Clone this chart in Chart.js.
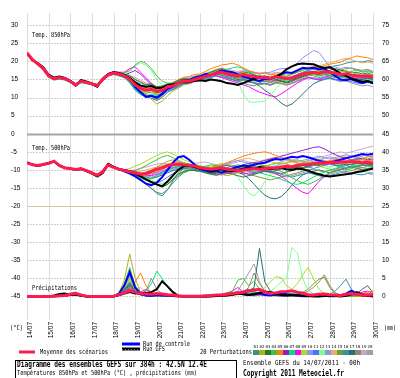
<!DOCTYPE html>
<html>
<head>
<meta charset="utf-8">
<script src="https://cdn.jsdelivr.net/npm/chart.js@4/dist/chart.umd.min.js"></script>
<style>
  html, body { margin: 0; padding: 0; background: #fff; overflow: hidden; }
  canvas { display: block; }
</style>
</head>
<body>
<canvas id="graphe" width="400" height="378"></canvas>
<script>
// --- Données (pas de 6 h, du 14/07 00h au 30/07 00h) ---
const dayLabels = ['14/07','15/07','16/07','17/07','18/07','19/07','20/07','21/07','22/07',
                   '23/07','24/07','25/07','26/07','27/07','28/07','29/07','30/07'];
const leftTicks = [30, 25, 20, 15, 10, 5, 0, -5, -10, -15, -20, -25, -30, -35, -40, -45];
const rightTicks = [75, 70, 65, 60, 55, 50, 45, 40, 35, 30, 25, 20, 15, 10, 5, 0];
const memberColors = ['#3f8f7f','#b0b020','#207f20','#40c040','#ff8000','#9020c0','#00e080','#ff00ff',
                      '#a0e020','#9090ff','#5070ff','#80ff90','#8898e0','#e8b070','#70a030','#3890a8',
                      '#287070','#a08070','#c0a8d0','#a0a0a0'];

// Température 850 hPa (°C)
const t850Mean = [22.3,20.5,19.3,18.0,16.0,15.2,15.5,15.2,14.5,13.5,14.5,14.2,13.8,13.3,15.0,16.3,16.8,16.5,16.0,15.0,13.5,12.5,12.0,12.3,11.6,12.0,13.0,13.2,14.0,14.6,14.5,15.0,
  15.4,15.8,16.2,16.8,17.0,16.6,16.3,16.0,16.4,16.0,15.8,15.5,15.6,15.3,15.8,15.5,15.2,15.4,16.0,16.5,16.8,17.0,16.8,17.2,17.0,16.7,16.4,16.6,16.2,16.0,15.8,16.0,15.6];
const t850Ctrl = [22.3,20.5,19.3,18.0,16.0,15.2,15.5,15.2,14.5,13.5,14.5,14.2,13.8,13.3,15.0,16.3,16.8,16.5,15.8,15.2,13.0,11.5,10.2,10.5,10.0,11.0,12.5,13.0,14.0,14.8,14.8,15.5,
  15.8,16.5,16.2,16.8,17.5,17.2,17.0,16.4,15.8,15.4,15.0,14.6,15.2,15.0,15.8,16.5,17.0,16.8,17.5,18.2,18.0,18.2,17.8,18.0,17.0,16.0,15.0,14.8,15.2,14.5,14.0,14.4,14.0];
const t850Gfs = [22.3,20.3,19.5,18.4,16.3,15.5,15.8,15.4,14.6,13.3,14.8,14.4,13.7,13.0,15.2,16.5,17.0,16.8,16.2,15.4,14.2,13.3,13.0,13.2,12.6,12.8,13.4,13.6,14.0,14.3,14.2,14.6,
  14.8,14.6,15.0,14.8,14.5,14.0,13.8,13.5,14.0,14.6,15.2,15.8,15.6,15.4,15.8,16.5,17.8,18.6,19.2,19.4,19.3,19.2,18.6,18.2,18.4,17.6,16.6,16.0,15.2,14.8,14.4,14.6,14.0];
const t850Members = [
  [22.3,20.4,19.5,17.8,15.8,15.0,15.7,15.0,14.3,13.6,14.7,14.0,13.6,13.4,15.3,16.5,17.0,16.3,15.8,14.5,12.5,11.0,10.0,10.4,9.5,10.5,12.0,12.8,13.5,14.2,14.0,14.8,15.0,15.5,16.0,16.5,16.2,15.8,15.0,14.5,14.0,13.5,13.2,14.0,15.0,15.5,16.0,15.4,15.0,15.6,16.2,16.8,17.4,17.0,16.5,16.8,16.0,15.5,15.8,16.4,16.0,15.5,15.2,15.6,15.0],
  [22.3,20.6,19.2,18.2,16.2,15.4,15.3,15.3,14.6,13.4,14.4,14.3,13.9,13.1,14.8,16.2,16.6,16.7,16.2,15.5,14.0,12.5,11.0,9.5,8.2,9.0,10.5,11.8,12.6,13.5,13.8,14.4,15.0,15.6,16.5,17.2,17.8,17.5,17.0,16.5,17.0,16.4,16.0,15.2,14.8,14.2,14.5,14.0,13.6,14.0,14.8,15.5,16.0,16.4,16.0,16.5,16.8,17.2,17.0,17.4,17.0,16.5,16.2,16.6,16.0],
  [22.2,20.5,19.4,18.0,15.9,15.1,15.6,15.4,14.7,13.7,14.5,14.4,14.0,13.5,15.2,16.6,17.1,16.8,16.5,16.0,15.0,14.2,13.5,13.8,13.0,13.2,13.8,14.0,14.8,15.2,15.0,15.6,16.0,16.5,17.0,17.6,18.0,17.4,17.0,16.6,17.0,16.8,16.2,15.8,16.0,15.5,15.0,14.6,14.2,14.8,15.5,16.0,16.2,16.6,16.4,16.8,17.5,18.0,17.6,17.2,16.8,17.0,16.5,16.8,16.2],
  [22.3,20.7,19.6,18.3,16.4,15.6,15.9,15.5,14.8,13.9,14.9,14.6,14.1,13.2,15.0,16.4,17.0,16.9,16.8,17.5,19.0,20.0,19.5,18.0,16.0,14.5,14.0,13.8,14.5,15.0,15.2,15.8,16.2,16.0,16.8,17.4,17.2,16.8,16.0,15.5,15.8,15.2,15.0,14.6,14.8,15.2,16.0,16.2,15.8,16.5,17.0,17.6,18.0,17.8,17.4,17.8,17.2,16.6,16.2,16.8,17.2,17.6,17.0,17.2,16.8],
  [22.4,20.5,19.1,17.9,15.8,15.0,15.4,15.0,14.3,13.3,14.3,14.1,13.6,13.0,14.6,16.0,16.5,16.2,16.0,15.2,14.0,13.0,12.5,12.8,12.0,12.6,13.5,14.0,14.8,15.6,15.8,16.4,16.5,17.2,18.0,18.5,19.0,19.2,19.5,19.0,18.2,17.5,17.0,16.5,16.8,16.2,16.5,16.0,15.8,16.4,17.0,17.5,18.0,18.5,18.2,18.8,19.2,19.5,19.8,20.5,21.0,21.5,21.2,21.0,20.5],
  [22.3,20.3,19.3,18.1,16.1,15.3,15.6,15.3,14.6,13.6,14.6,14.3,13.9,13.4,15.1,16.4,16.9,16.7,16.2,16.8,17.5,16.5,15.0,13.5,12.0,11.5,12.2,13.0,13.8,14.5,14.2,14.9,15.2,15.8,16.0,16.5,16.8,16.2,15.8,15.4,15.8,15.2,14.8,14.5,14.6,14.2,14.8,14.5,14.0,14.4,15.2,15.8,16.2,16.5,16.0,16.4,16.8,16.2,15.8,16.0,15.5,15.2,15.0,15.4,15.0],
  [22.2,20.4,19.0,17.7,15.6,14.8,15.1,14.8,14.1,13.1,14.1,13.8,13.5,13.0,14.7,16.1,16.4,16.1,15.5,14.0,12.0,10.8,10.2,11.0,10.5,11.2,12.5,13.0,13.6,14.0,14.4,15.0,14.8,15.2,15.8,16.5,17.2,17.8,18.2,18.5,18.0,17.2,16.4,15.8,15.5,15.0,15.4,15.0,14.5,14.8,15.5,16.0,16.4,16.0,15.5,16.0,16.2,15.8,15.5,15.8,15.4,15.0,14.8,15.2,14.6],
  [22.3,20.6,19.5,18.2,16.2,15.5,15.8,15.5,14.8,13.8,14.8,14.5,14.0,13.6,15.4,16.7,17.2,17.0,17.0,18.0,18.5,17.0,15.5,14.0,12.5,12.0,12.8,13.6,14.2,14.8,15.0,15.5,15.6,16.0,16.4,16.0,15.5,15.0,14.5,14.0,13.5,13.0,12.2,11.5,11.0,10.5,10.2,11.0,12.0,13.0,14.0,14.8,15.5,15.2,15.0,15.6,16.0,16.5,16.2,16.0,15.6,15.2,15.0,15.4,15.2],
  [22.3,20.5,19.2,17.9,15.9,15.2,15.5,15.1,14.4,13.4,14.4,14.2,13.7,13.2,14.9,16.2,16.7,16.4,15.8,14.8,13.2,12.0,11.5,11.8,11.0,11.5,12.8,13.2,14.2,15.0,14.8,15.4,15.8,16.2,16.6,17.0,16.5,16.0,15.8,15.2,15.6,15.0,14.6,14.2,14.5,14.0,14.6,14.8,14.5,15.0,15.6,16.2,16.5,16.8,16.4,16.8,16.5,16.0,15.6,15.8,15.4,15.2,14.8,15.2,14.8],
  [22.4,20.6,19.4,18.0,16.0,15.3,15.4,15.2,14.5,13.5,14.6,14.2,13.8,13.3,15.0,16.3,16.8,16.6,16.0,15.6,14.5,13.8,13.2,13.0,12.4,12.8,13.2,13.8,14.4,14.8,14.6,15.2,15.5,16.0,16.4,17.0,17.5,17.2,17.0,16.8,17.2,17.0,16.8,16.5,16.8,17.0,17.6,18.0,18.0,18.5,19.5,21.0,22.0,23.0,22.5,20.5,18.5,18.5,18.0,18.4,18.0,17.6,17.2,17.5,17.0],
  [22.2,20.4,19.1,17.8,15.7,14.9,15.2,15.0,14.3,13.2,14.2,14.0,13.6,13.1,14.8,16.0,16.5,16.2,15.6,14.2,12.2,11.0,10.5,10.2,9.8,10.6,11.8,12.5,13.2,14.0,14.2,14.6,14.6,15.0,15.5,16.0,15.8,15.5,15.0,14.6,15.0,14.5,14.2,13.8,14.0,13.6,14.2,14.0,13.5,14.0,14.6,15.2,15.6,15.2,14.8,15.2,15.6,15.0,14.6,14.8,14.4,14.0,13.8,14.2,13.8],
  [22.3,20.5,19.5,18.2,16.2,15.4,15.7,15.4,14.6,13.7,14.7,14.4,14.0,13.5,15.2,16.6,17.1,16.9,16.4,17.2,18.8,19.5,19.0,17.5,15.0,13.5,13.0,13.4,14.0,14.6,14.4,15.2,15.0,15.4,15.8,16.2,16.0,15.6,15.2,14.5,11.0,8.8,8.7,8.8,9.0,10.5,12.5,13.8,14.5,15.0,15.6,16.2,16.6,16.4,16.0,16.5,16.2,15.8,15.5,16.0,15.6,15.2,14.8,15.2,14.8],
  [22.3,20.4,19.3,18.0,16.0,15.2,15.5,15.2,14.5,13.5,14.5,14.2,13.8,13.3,15.0,16.3,16.8,16.5,16.0,15.2,13.8,12.8,12.5,12.0,11.4,12.2,13.0,13.5,14.2,14.4,14.0,14.6,15.2,15.6,16.0,16.6,16.8,16.4,16.0,15.8,16.2,15.8,15.5,15.2,15.4,15.0,15.5,15.2,15.0,15.2,15.8,16.2,16.6,16.8,16.5,17.0,16.8,16.4,16.2,16.5,16.0,15.8,15.5,15.8,15.4],
  [22.3,20.6,19.4,18.1,16.1,15.3,15.6,15.3,14.7,13.6,14.6,14.4,13.9,13.4,15.1,16.4,16.9,16.7,16.2,15.8,15.0,14.5,13.8,13.0,12.2,12.5,13.5,14.2,15.0,15.5,15.2,15.8,16.0,16.6,17.0,17.5,18.0,17.6,17.2,17.0,17.4,17.2,16.8,16.6,16.8,16.4,16.8,16.5,16.2,16.5,17.0,17.6,18.0,18.4,18.8,19.2,19.6,20.0,20.5,20.8,20.5,20.0,19.6,19.8,19.5],
  [22.2,20.5,19.2,17.9,15.9,15.1,15.4,15.1,14.4,13.3,14.3,14.1,13.7,13.2,14.9,16.1,16.6,16.3,15.8,14.6,13.0,11.8,11.2,11.5,10.8,11.2,12.2,12.8,13.8,14.5,14.5,15.0,15.2,15.0,15.5,16.2,16.0,15.4,15.0,14.5,14.8,14.2,14.0,13.6,13.8,13.4,14.0,14.5,14.2,14.8,15.2,15.6,16.0,16.4,16.2,16.6,17.0,17.4,17.6,18.0,18.2,17.8,17.5,17.8,17.2],
  [22.3,20.6,19.3,18.1,16.0,15.3,15.5,15.1,14.5,13.4,14.5,14.3,13.8,13.3,15.1,16.3,16.7,16.5,16.0,15.0,13.4,12.2,11.8,12.0,11.2,11.8,12.8,13.2,14.0,14.6,14.8,15.3,15.5,16.0,16.5,17.0,17.4,17.0,16.6,16.2,16.6,16.2,16.0,15.6,15.8,15.5,16.0,15.8,15.5,15.8,16.4,17.0,17.5,17.8,17.6,18.0,18.4,18.8,19.0,19.5,19.8,20.0,19.8,20.2,20.0],
  [22.3,20.3,19.1,17.8,15.8,15.0,15.3,15.0,14.2,13.3,14.3,14.0,13.5,12.9,14.6,15.9,16.4,16.0,15.6,14.2,12.6,11.2,10.2,9.8,9.2,10.0,11.5,12.2,13.0,13.8,14.0,14.6,15.4,15.8,16.2,16.6,16.4,16.0,15.5,15.0,15.2,14.6,14.0,13.2,12.0,11.0,9.8,8.5,7.6,8.2,9.5,11.0,12.5,13.8,14.5,15.0,15.4,15.0,14.8,15.2,14.8,14.5,14.2,14.6,14.2],
  [22.3,20.5,19.4,18.1,16.1,15.3,15.7,15.3,14.6,13.6,14.7,14.3,13.9,13.5,15.2,16.5,17.0,16.7,16.2,15.4,14.0,13.2,12.8,13.2,12.5,12.8,13.6,13.8,14.6,15.0,14.8,15.2,15.0,15.4,15.8,16.2,16.0,15.5,15.2,15.0,15.4,15.0,14.8,14.5,14.8,14.5,15.0,14.8,14.4,14.8,15.4,16.0,16.4,16.6,16.2,16.5,16.2,15.8,15.4,15.6,15.2,14.8,14.4,14.8,14.4],
  [22.4,20.7,19.5,18.2,16.2,15.4,15.8,15.4,14.7,13.7,14.8,14.5,14.0,13.6,15.3,16.6,17.1,16.9,16.5,16.2,15.5,14.8,14.0,13.5,12.8,13.0,13.8,14.2,14.8,15.4,15.6,16.0,16.2,16.8,17.2,17.8,18.2,17.8,17.5,17.2,17.6,17.2,17.0,16.8,17.0,16.6,17.0,16.8,16.5,16.8,17.4,18.0,18.4,18.6,18.2,18.5,18.0,17.6,17.2,17.4,17.0,16.6,16.2,16.4,16.0],
  [22.2,20.4,19.2,17.9,15.9,15.1,15.3,15.0,14.3,13.4,14.3,14.0,13.6,13.0,14.7,16.0,16.6,16.2,15.8,14.4,12.8,11.5,10.8,10.5,10.0,10.8,12.0,12.6,13.2,14.0,14.2,14.8,14.8,15.2,15.6,16.0,15.6,15.2,14.8,14.4,14.8,14.4,14.0,13.6,13.8,13.4,14.0,13.8,13.4,13.8,14.4,15.0,15.4,15.6,15.2,15.6,15.2,14.8,14.4,14.6,14.0,13.6,13.2,13.4,13.0]
];

// Température 500 hPa (°C)
const t500Mean = [-8.0,-8.6,-8.8,-8.5,-8.2,-7.6,-8.8,-9.5,-9.6,-9.9,-9.7,-10.2,-10.8,-11.5,-10.5,-8.6,-9.3,-9.8,-10.2,-10.5,-10.8,-11.2,-11.0,-10.4,-9.8,-9.4,-8.8,-8.5,-8.4,-8.6,-8.7,-8.9,
  -9.4,-9.6,-9.8,-9.6,-9.5,-9.8,-10.0,-10.2,-10.0,-9.8,-9.6,-9.8,-9.6,-9.5,-9.4,-9.2,-9.0,-9.2,-8.8,-8.6,-8.5,-8.2,-8.0,-8.1,-7.9,-8.0,-7.8,-7.9,-7.7,-7.8,-8.0,-7.9,-8.2];
const t500Ctrl = [-8.0,-8.5,-8.9,-8.6,-8.2,-7.7,-8.7,-9.4,-9.6,-10.0,-9.8,-10.3,-10.9,-11.6,-10.4,-8.5,-9.2,-9.8,-10.4,-11.0,-11.8,-12.8,-13.8,-14.2,-13.5,-12.0,-10.0,-8.0,-6.5,-6.2,-7.2,-8.5,
  -9.8,-10.2,-10.6,-10.4,-10.8,-10.2,-9.6,-9.2,-8.8,-9.0,-8.6,-8.2,-8.0,-7.4,-7.0,-7.2,-6.8,-6.4,-6.6,-6.2,-6.5,-7.0,-7.5,-7.8,-8.0,-7.6,-7.2,-6.8,-6.4,-6.0,-5.6,-5.8,-5.5];
const t500Gfs = [-8.0,-8.5,-8.9,-8.4,-8.1,-7.7,-8.9,-9.4,-9.7,-9.8,-9.6,-10.3,-11.0,-11.8,-10.8,-8.4,-9.2,-9.8,-10.0,-10.4,-11.0,-11.8,-12.6,-13.4,-14.0,-14.5,-13.2,-11.5,-10.0,-9.0,-8.8,-9.2,
  -9.6,-9.8,-10.2,-10.0,-9.8,-10.2,-10.4,-10.0,-9.6,-9.4,-9.6,-9.2,-9.4,-9.8,-9.6,-9.4,-9.8,-10.0,-9.6,-9.8,-10.2,-10.8,-11.2,-11.6,-11.8,-11.6,-11.4,-11.2,-11.0,-10.6,-10.4,-10.0,-9.6];
const t500Members = [
  [-8.0,-8.5,-8.9,-8.6,-8.1,-7.8,-9.0,-9.4,-9.8,-10.0,-9.5,-10.4,-11.0,-11.8,-10.2,-8.2,-9.0,-9.6,-10.0,-10.6,-11.5,-12.5,-13.8,-15.0,-16.5,-17.2,-15.5,-13.0,-10.8,-9.6,-9.2,-9.6,-10.0,-10.4,-10.8,-10.2,-9.8,-9.4,-9.0,-8.6,-9.0,-8.8,-9.2,-9.6,-10.0,-10.4,-10.8,-11.0,-10.6,-10.2,-9.8,-9.6,-9.2,-8.8,-8.4,-8.6,-8.2,-8.0,-8.4,-8.8,-9.2,-9.0,-8.6,-8.8,-9.0],
  [-8.1,-8.7,-8.7,-8.4,-8.3,-7.5,-8.6,-9.6,-9.5,-9.8,-9.9,-10.0,-10.6,-11.2,-10.8,-8.8,-9.4,-10.0,-10.2,-10.4,-10.8,-11.0,-10.6,-10.0,-9.2,-8.4,-7.6,-7.2,-7.8,-8.4,-8.8,-9.2,-9.6,-10.0,-10.4,-10.8,-11.2,-11.6,-11.2,-10.8,-10.4,-10.0,-9.6,-9.2,-9.0,-8.6,-8.2,-8.0,-8.4,-8.8,-8.4,-8.0,-7.6,-7.2,-7.0,-7.4,-7.8,-8.2,-8.0,-7.6,-7.2,-7.4,-7.0,-6.8,-7.0],
  [-7.9,-8.6,-8.8,-8.6,-8.2,-7.7,-8.8,-9.4,-9.6,-10.0,-9.8,-10.2,-10.9,-12.0,-11.0,-8.8,-9.2,-9.7,-10.0,-10.2,-10.6,-11.4,-12.4,-13.4,-14.2,-14.8,-14.0,-12.5,-11.2,-10.4,-10.0,-10.2,-10.4,-10.8,-11.2,-11.0,-10.6,-10.8,-11.2,-11.6,-12.0,-11.6,-11.2,-10.8,-10.4,-10.6,-10.2,-9.8,-9.4,-9.6,-9.2,-9.4,-9.0,-8.6,-8.8,-8.4,-8.2,-8.6,-8.8,-8.4,-8.6,-8.2,-8.0,-8.4,-8.6],
  [-8.0,-8.4,-8.8,-8.5,-8.0,-7.4,-8.7,-9.4,-9.6,-9.8,-9.6,-10.0,-10.6,-11.4,-10.6,-8.0,-9.0,-9.6,-10.0,-10.4,-10.2,-9.6,-8.8,-8.0,-7.2,-6.4,-6.0,-6.6,-7.4,-8.0,-8.4,-8.8,-9.2,-9.0,-8.6,-8.8,-9.2,-9.6,-9.8,-9.4,-9.0,-8.6,-8.2,-8.6,-9.0,-9.4,-9.8,-10.4,-11.2,-12.2,-13.0,-13.6,-14.0,-13.4,-12.6,-11.6,-10.8,-10.2,-9.8,-10.0,-9.6,-9.2,-9.4,-9.0,-8.8],
  [-8.0,-8.7,-8.9,-8.4,-8.2,-7.6,-8.9,-9.5,-9.7,-10.0,-9.7,-10.1,-10.7,-11.4,-10.4,-8.5,-9.4,-10.0,-10.4,-10.8,-11.2,-11.6,-11.4,-11.0,-10.4,-9.8,-9.2,-8.8,-8.4,-8.6,-8.8,-9.0,-9.4,-9.8,-9.4,-9.0,-8.6,-8.0,-7.4,-6.8,-6.2,-5.8,-5.4,-5.2,-5.0,-5.4,-6.0,-6.6,-7.0,-7.6,-8.0,-8.4,-8.2,-8.6,-8.4,-8.0,-7.6,-7.2,-7.0,-7.4,-7.8,-7.6,-7.2,-7.4,-7.6],
  [-8.1,-8.5,-8.8,-8.5,-8.2,-7.7,-8.8,-9.6,-9.6,-9.8,-9.6,-10.3,-10.8,-11.6,-10.6,-8.7,-9.3,-9.9,-10.2,-10.6,-11.0,-11.2,-11.0,-10.6,-10.0,-9.4,-8.8,-8.4,-8.6,-8.8,-9.0,-9.2,-9.4,-9.6,-9.8,-9.4,-9.0,-8.8,-9.2,-9.0,-8.6,-8.2,-8.0,-7.8,-7.4,-7.0,-6.6,-6.2,-5.8,-5.4,-5.0,-4.6,-4.2,-3.8,-3.6,-4.2,-5.0,-5.8,-6.4,-6.8,-7.2,-7.0,-6.8,-7.2,-7.0],
  [-8.0,-8.6,-8.8,-8.6,-8.3,-7.6,-8.7,-9.5,-9.5,-9.9,-9.8,-10.2,-10.8,-11.5,-10.4,-8.2,-9.2,-9.8,-10.2,-10.8,-11.6,-12.4,-12.8,-12.4,-11.6,-10.8,-10.0,-9.4,-9.0,-9.2,-9.4,-9.2,-9.0,-9.2,-9.6,-10.0,-10.4,-10.2,-9.8,-9.4,-9.6,-10.0,-10.4,-10.8,-11.2,-11.6,-12.0,-12.6,-13.2,-13.8,-14.0,-13.6,-12.8,-12.0,-11.2,-10.6,-10.0,-9.6,-9.2,-9.4,-9.0,-8.8,-8.6,-8.8,-8.4],
  [-8.0,-8.5,-8.7,-8.4,-8.1,-7.5,-8.8,-9.4,-9.7,-10.0,-9.6,-10.2,-10.7,-11.3,-10.6,-8.6,-9.4,-9.8,-10.0,-10.2,-10.6,-11.0,-11.4,-11.6,-11.2,-10.6,-10.0,-9.4,-9.0,-8.8,-9.0,-9.4,-9.8,-10.2,-10.6,-11.0,-11.4,-11.0,-10.6,-10.4,-10.8,-11.2,-11.0,-10.6,-10.2,-10.6,-11.0,-11.8,-12.8,-14.0,-15.2,-16.2,-16.6,-15.0,-13.2,-11.8,-10.8,-10.2,-9.8,-9.4,-9.0,-9.2,-8.8,-8.6,-8.8],
  [-8.0,-8.6,-8.9,-8.5,-8.2,-7.6,-8.8,-9.6,-9.5,-9.9,-9.8,-10.1,-10.8,-11.5,-10.5,-8.4,-9.2,-9.8,-10.0,-9.6,-9.0,-8.4,-7.6,-6.8,-6.0,-5.4,-5.0,-5.6,-6.4,-7.2,-7.8,-8.4,-8.8,-9.2,-9.0,-8.6,-8.2,-8.6,-9.0,-9.4,-9.2,-8.8,-8.4,-8.6,-8.2,-7.8,-8.0,-8.4,-8.2,-7.8,-7.4,-7.8,-8.2,-8.6,-9.0,-9.4,-9.8,-10.2,-9.8,-9.4,-9.0,-8.6,-8.8,-8.4,-8.2],
  [-8.0,-8.5,-8.8,-8.6,-8.2,-7.7,-8.9,-9.5,-9.6,-9.9,-9.7,-10.2,-10.8,-11.6,-10.6,-8.5,-9.3,-9.8,-10.2,-10.6,-11.0,-11.4,-11.8,-11.4,-10.8,-10.2,-9.6,-9.0,-8.6,-8.4,-8.6,-8.8,-9.0,-9.2,-9.4,-9.0,-8.6,-8.2,-7.8,-7.4,-7.8,-8.2,-8.6,-8.2,-7.8,-7.4,-7.0,-6.6,-7.0,-7.4,-7.8,-7.4,-7.0,-6.6,-6.2,-6.6,-7.0,-6.6,-6.2,-5.8,-6.2,-6.6,-6.2,-5.8,-6.0],
  [-8.0,-8.6,-8.8,-8.5,-8.2,-7.6,-8.8,-9.4,-9.6,-10.0,-9.7,-10.3,-10.9,-11.7,-10.6,-8.6,-9.4,-10.0,-10.4,-10.8,-11.4,-12.0,-12.6,-13.2,-13.6,-13.0,-12.0,-11.0,-10.2,-9.6,-9.4,-9.8,-10.2,-10.6,-10.2,-9.8,-10.2,-10.6,-11.0,-10.6,-10.2,-10.4,-10.8,-10.4,-10.0,-9.6,-9.2,-9.6,-10.0,-9.6,-9.2,-8.8,-9.2,-9.6,-9.2,-8.8,-8.4,-8.8,-9.2,-8.8,-8.4,-8.0,-8.4,-8.8,-9.0],
  [-8.0,-8.5,-8.8,-8.5,-8.3,-7.6,-8.8,-9.5,-9.6,-9.9,-9.7,-10.2,-10.8,-11.5,-10.5,-8.6,-9.3,-9.8,-10.2,-10.6,-11.0,-11.6,-12.2,-12.8,-13.4,-13.8,-13.0,-12.0,-11.0,-10.2,-9.8,-9.6,-9.8,-10.2,-10.0,-9.6,-9.8,-10.2,-10.6,-12.0,-14.2,-16.4,-17.2,-15.6,-13.2,-11.4,-10.2,-9.6,-9.2,-9.6,-10.0,-9.6,-9.2,-8.8,-8.4,-8.8,-9.2,-8.8,-8.4,-8.6,-8.2,-8.4,-8.8,-8.4,-8.2],
  [-8.0,-8.6,-8.8,-8.4,-8.2,-7.7,-8.8,-9.5,-9.6,-9.8,-9.8,-10.2,-10.8,-11.4,-10.4,-8.6,-9.4,-9.9,-10.2,-10.4,-10.8,-11.2,-11.6,-12.0,-11.6,-11.0,-10.4,-9.8,-9.4,-9.2,-9.4,-9.6,-9.8,-10.0,-9.6,-9.2,-8.8,-8.4,-8.8,-9.2,-9.6,-9.2,-8.8,-8.4,-8.8,-9.2,-8.8,-8.4,-8.0,-7.6,-7.2,-7.6,-8.0,-7.6,-7.2,-6.8,-6.4,-6.8,-7.2,-7.6,-7.2,-6.8,-7.2,-7.6,-7.4],
  [-8.0,-8.6,-8.8,-8.5,-8.2,-7.6,-8.7,-9.4,-9.6,-9.9,-9.7,-10.2,-10.7,-11.4,-10.5,-8.6,-9.3,-9.8,-10.2,-10.6,-10.8,-10.4,-10.0,-9.6,-9.2,-8.8,-8.4,-8.0,-7.8,-8.2,-8.6,-9.0,-9.4,-9.8,-9.4,-9.0,-8.6,-8.2,-7.8,-7.4,-7.0,-6.8,-7.2,-7.6,-7.2,-6.8,-6.6,-7.0,-7.4,-7.8,-8.2,-8.6,-9.0,-8.6,-8.2,-7.8,-7.4,-7.0,-6.6,-6.2,-6.0,-6.4,-6.8,-6.4,-6.6],
  [-8.0,-8.6,-8.9,-8.6,-8.2,-7.6,-8.8,-9.5,-9.6,-9.9,-9.7,-10.2,-10.8,-11.5,-10.6,-8.7,-9.4,-9.9,-10.4,-11.0,-11.6,-12.2,-12.8,-13.4,-14.0,-14.6,-14.0,-12.8,-11.6,-10.6,-10.0,-9.8,-10.0,-10.4,-10.8,-11.2,-10.8,-10.4,-10.0,-10.4,-10.8,-11.2,-11.6,-12.0,-12.4,-12.8,-12.4,-12.0,-11.6,-11.2,-10.8,-10.4,-10.0,-9.8,-10.2,-10.6,-10.2,-9.8,-9.4,-9.8,-10.2,-9.8,-9.4,-9.6,-9.8],
  [-8.0,-8.5,-8.8,-8.5,-8.2,-7.6,-8.8,-9.5,-9.6,-9.9,-9.7,-10.2,-10.8,-11.6,-10.6,-8.6,-9.3,-9.8,-10.2,-10.8,-11.6,-12.8,-14.0,-15.2,-16.2,-16.6,-15.4,-13.6,-12.0,-10.8,-10.2,-10.0,-10.2,-10.4,-10.0,-9.6,-9.2,-9.6,-10.0,-9.6,-9.2,-8.8,-9.2,-9.6,-10.0,-10.4,-10.8,-11.2,-11.6,-12.0,-11.6,-11.2,-10.8,-11.2,-11.6,-12.0,-11.6,-11.2,-10.8,-10.4,-10.8,-11.2,-11.4,-11.0,-11.2],
  [-8.0,-8.6,-8.8,-8.5,-8.2,-7.6,-8.8,-9.5,-9.6,-9.9,-9.7,-10.2,-10.8,-11.5,-10.5,-8.6,-9.3,-9.8,-10.0,-10.4,-10.8,-11.4,-12.0,-12.4,-12.0,-11.4,-10.8,-10.2,-9.8,-9.6,-9.8,-10.0,-10.2,-10.6,-11.0,-11.4,-11.0,-10.6,-10.2,-10.6,-11.2,-12.4,-14.0,-15.6,-17.0,-17.8,-18.0,-17.4,-16.0,-14.2,-12.6,-11.4,-10.8,-10.4,-10.0,-10.4,-10.8,-10.4,-10.0,-9.6,-9.2,-9.6,-10.0,-9.6,-9.4],
  [-8.0,-8.7,-8.8,-8.4,-8.3,-7.7,-8.6,-9.4,-9.7,-10.0,-9.6,-10.1,-10.9,-11.6,-10.4,-8.5,-9.2,-9.9,-10.0,-10.2,-10.4,-10.8,-11.2,-11.0,-10.6,-10.2,-9.8,-9.4,-9.2,-9.4,-9.6,-9.8,-10.0,-10.2,-9.8,-9.4,-9.8,-10.2,-10.6,-10.2,-9.8,-9.4,-9.0,-9.4,-9.8,-10.2,-10.6,-11.0,-10.6,-10.2,-9.8,-9.4,-9.0,-8.6,-8.2,-8.0,-7.6,-7.2,-7.6,-8.0,-7.6,-7.2,-6.8,-6.4,-6.2],
  [-8.0,-8.5,-8.7,-8.5,-8.1,-7.6,-8.9,-9.6,-9.5,-9.8,-9.8,-10.3,-10.8,-11.4,-10.6,-8.7,-9.4,-9.8,-10.0,-10.2,-10.0,-9.6,-9.2,-8.8,-8.4,-8.2,-8.4,-8.6,-8.8,-9.0,-8.6,-8.2,-8.0,-7.8,-8.2,-8.6,-9.0,-8.6,-8.2,-7.8,-7.4,-7.8,-8.2,-8.6,-9.0,-8.6,-8.2,-7.8,-7.4,-7.0,-7.4,-7.8,-7.4,-7.0,-6.6,-6.2,-5.8,-5.4,-5.0,-5.4,-5.0,-4.6,-4.2,-3.8,-3.4],
  [-8.0,-8.6,-8.9,-8.6,-8.2,-7.5,-8.8,-9.5,-9.6,-10.0,-9.7,-10.2,-10.8,-12.0,-11.2,-9.0,-9.4,-10.0,-10.4,-10.8,-11.4,-12.0,-12.6,-12.2,-11.6,-11.0,-10.4,-9.8,-9.6,-9.8,-10.0,-10.2,-10.4,-10.8,-11.2,-11.6,-11.2,-10.8,-10.4,-10.8,-11.2,-10.8,-10.4,-10.0,-10.4,-10.8,-11.2,-11.6,-12.0,-11.6,-11.2,-10.8,-10.4,-10.8,-11.2,-11.6,-11.2,-10.8,-10.4,-10.8,-11.2,-10.8,-10.4,-10.6,-10.8]
];

// Précipitations (mm, axe de droite)
const precipMean = [0,0,0,0,0,0.1,0.2,0.3,0.6,0.8,0.4,0.1,0,0,0,0,0.1,0.5,1.0,1.6,1.2,0.8,0.7,0.6,0.8,0.7,0.5,0.4,0.2,0.1,0.1,0.1,
  0.1,0.2,0.3,0.4,0.4,0.6,0.8,1.0,1.2,1.5,1.8,2.0,1.2,0.8,1.0,1.3,1.4,1.6,1.2,0.9,0.5,0.4,0.6,0.7,0.5,0.4,0.3,0.6,0.8,0.6,0.4,0.5,0.4];
const precipCtrl = [0,0,0,0,0,0,0.1,0.2,0.5,0.9,0.3,0,0,0,0,0,0,0.8,3.0,6.8,2.5,0.8,0.3,0.2,0.4,0.3,0.2,0.1,0,0,0,0,
  0,0,0.1,0.2,0.3,0.5,0.8,1.0,0.7,0.5,0.6,0.8,0.4,0.3,0.5,0.9,0.6,0.4,0.2,0.1,0.1,0.2,0.3,0.2,0.1,0.1,0.3,0.8,1.6,0.8,0.3,0.2,0.1];
const precipGfs = [0,0,0,0,0,0.3,0.7,0.8,0.4,0.5,0.2,0,0,0,0,0,0,0.3,0.8,1.2,0.8,0.9,1.0,1.2,2.0,4.2,2.8,1.2,0.2,0,0,0,
  0,0,0,0.1,0.2,0.3,0.5,0.8,0.6,0.4,0.6,1.0,1.4,1.2,0.6,0.4,0.3,0.5,0.4,0.2,0.1,0,0,0.1,0.2,0.1,0,0.2,0.6,1.2,0.6,0.2,0];
const precipMembers = [
  [0,0,0,0,0,0,0.1,0.3,0.6,0.9,0.3,0,0,0,0,0,0,0.6,2.0,4.0,1.5,0.6,0.3,0.2,0.3,0.2,0.1,0,0,0,0,0,0,0,0.1,0.2,0.4,0.6,0.8,1.2,0.8,0.4,0.2,0.5,0.8,0.5,0.3,0.2,0.1,0.2,0.4,0.6,0.3,0.1,0,0,0.1,0.2,0.1,0,0.2,0.4,0.2,0.1,0],
  [0,0,0,0,0,0,0.2,0.4,0.8,0.6,0.2,0,0,0,0,0,0,1.0,4.5,11.7,5.0,1.2,0.5,0.3,0.2,0.1,0,0,0,0,0,0,0,0,0,0.1,0.2,0.3,0.5,0.8,1.0,0.6,0.4,0.8,1.5,1.0,0.5,0.3,0.2,0.4,0.3,0.2,0.1,0,0,0,0,0.1,0.3,0.2,0.1,0,0,0.1,0],
  [0,0,0,0,0,0,0,0.2,0.5,0.7,0.2,0,0,0,0,0,0,0.4,1.5,3.0,1.2,0.5,0.2,0.1,0.4,0.6,0.3,0.1,0,0,0,0,0,0,0,0,0.1,0.3,0.6,1.0,1.5,2.0,1.2,0.6,0.4,0.8,1.2,0.8,0.4,0.2,0.1,0,0,0.1,0.2,0.1,0,0,0.2,0.5,0.3,0.1,0,0,0],
  [0,0,0,0,0,0,0.1,0.2,0.4,0.8,0.3,0,0,0,0,0,0,0.8,3.5,8.0,3.0,0.8,0.4,0.3,0.2,0.1,0,0,0,0,0,0,0,0,0.1,0.3,0.6,1.0,1.5,4.5,5.0,3.0,4.2,2.0,1.0,0.6,0.8,1.2,0.8,0.4,0.2,0.1,0.2,0.4,0.2,0.1,0,0,0.1,0.2,0.1,0,0.1,0.2,0.1],
  [0,0,0,0,0,0,0.1,0.2,0.3,0.5,0.2,0,0,0,0,0,0,0.3,1.0,2.0,4.0,6.5,3.0,1.0,0.4,0.2,0.1,0,0,0,0,0,0,0,0,0,0.1,0.2,0.3,0.5,0.8,0.6,0.4,0.3,0.5,0.8,0.6,0.3,0.2,0.1,0,0,0,0.1,0.2,0.1,0,0,0,0.1,0.2,0.4,0.8,1.2,1.5],
  [0,0,0,0,0,0,0,0.1,0.3,0.5,0.2,0,0,0,0,0,0,0.5,1.8,3.5,1.4,0.5,0.2,0.1,0.2,0.1,0,0,0,0,0,0,0,0,0,0.1,0.2,0.4,0.6,0.9,0.7,0.5,0.8,1.2,0.9,0.5,0.3,0.2,0.1,0,0,0,0.1,0.3,0.5,0.3,0.1,0,0,0.1,0.3,0.2,0.1,0,0],
  [0,0,0,0,0,0,0.1,0.2,0.5,0.8,0.2,0,0,0,0,0,0,0.4,1.5,3.2,1.5,0.8,1.5,3.5,7.0,5.0,2.5,1.0,0.3,0.1,0,0,0,0,0,0.1,0.2,0.4,0.8,1.2,1.0,0.8,1.2,2.0,1.5,0.8,0.5,0.6,1.0,0.8,0.5,0.3,0.2,0.1,0.1,0.2,0.3,0.2,0.1,0,0,0.1,0.2,0.1,0],
  [0,0,0,0,0,0,0.1,0.2,0.4,0.6,0.2,0,0,0,0,0,0,0.3,1.2,2.2,1.0,1.2,2.0,1.0,0.4,0.2,0.1,0,0,0,0,0,0,0,0.1,0.3,0.6,1.0,1.5,2.5,1.2,0.6,0.4,0.6,0.8,0.5,0.3,0.2,0.1,0,0,0.1,0.2,0.1,0,0,0.1,0.2,0.1,0,0.2,0.6,1.2,1.5,0.8],
  [0,0,0,0,0,0,0.1,0.2,0.4,0.7,0.2,0,0,0,0,0,0,0.6,2.5,5.0,2.0,0.6,0.3,0.2,0.1,0,0,0,0,0,0,0,0,0,0,0.1,0.3,0.5,0.8,1.0,0.8,0.6,0.8,1.2,2.5,4.0,5.5,5.2,3.0,2.0,3.5,6.0,8.0,5.0,2.0,0.8,0.4,0.2,0.1,0,0,0.1,0.2,0.1,0],
  [0,0,0,0,0,0,0,0.1,0.3,0.5,0.2,0,0,0,0,0,0,0.4,1.4,2.8,1.2,0.4,0.2,0.1,0.1,0,0,0,0,0,0,0,0,0,0,0,0.1,0.2,0.4,0.6,0.5,0.3,0.2,0.4,0.6,0.4,0.2,0.1,0,0,0.1,0.2,0.1,0,0,0,0.1,0.3,0.5,0.3,0.1,0,0,0,0],
  [0,0,0,0,0,0,0.1,0.3,0.6,0.8,0.3,0,0,0,0,0,0,0.7,3.0,6.0,2.2,0.6,0.3,0.2,0.2,0.1,0,0,0,0,0,0,0,0,0.1,0.2,0.4,0.6,1.0,0.8,0.6,0.5,0.8,1.0,0.7,0.4,0.3,0.2,0.1,0,0,0,0.1,0.2,0.1,0,0,0.1,0.2,0.4,0.8,0.5,0.2,0.1,0],
  [0,0,0,0,0,0,0.1,0.2,0.5,0.7,0.2,0,0,0,0,0,0,0.5,2.0,4.2,1.8,0.6,0.3,0.2,0.1,0,0,0,0,0,0,0,0,0,0,0.1,0.2,0.3,0.5,0.8,1.0,1.2,0.8,0.6,0.8,1.5,2.5,4.0,5.0,13.5,12.0,5.0,1.5,0.8,0.5,0.3,0.2,0.1,0,0,0.1,0.2,0.1,0,0],
  [0,0,0,0,0,0,0,0.2,0.4,0.6,0.2,0,0,0,0,0,0,0.5,1.6,3.6,1.5,0.5,0.2,0.1,0.1,0,0,0,0,0,0,0,0,0,0,0.1,0.2,0.4,0.6,0.8,0.6,0.4,0.3,0.5,0.8,0.6,0.3,0.2,0.1,0.2,0.3,0.2,0.1,0,0,0,0,0.1,0.2,0.1,0,0,0,0,0],
  [0,0,0,0,0,0,0.1,0.2,0.3,0.5,0.2,0,0,0,0,0,0,0.3,1.0,2.2,1.5,2.5,1.2,0.5,0.2,0.1,0,0,0,0,0,0,0,0,0,0,0.1,0.2,0.4,0.6,0.8,1.2,0.8,0.5,0.3,0.5,0.8,0.6,0.3,0.2,0.1,0,0,0,0.1,0.2,0.1,0,0,0.1,0.3,0.6,0.8,1.0,0.6],
  [0,0,0,0,0,0,0.1,0.2,0.4,0.8,0.3,0,0,0,0,0,0,0.6,2.2,4.8,1.8,0.5,0.2,0.1,0.2,0.1,0,0,0,0,0,0,0,0,0,0.1,0.3,0.5,0.6,0.8,0.6,0.4,0.6,1.0,1.4,1.0,0.6,0.4,0.3,0.5,0.8,1.2,2.0,3.5,4.8,5.3,2.5,0.8,0.4,0.2,0.1,0.2,0.4,0.2,0.1],
  [0,0,0,0,0,0,0,0.1,0.3,0.5,0.2,0,0,0,0,0,0,0.4,1.2,2.5,1.0,0.4,0.2,0.1,0.1,0,0,0,0,0,0,0,0,0,0,0.1,0.2,0.3,0.5,0.7,0.5,0.4,0.6,0.9,0.6,0.4,0.2,0.1,0.1,0.2,0.4,0.3,0.2,0.1,0,0.2,0.6,1.5,3.0,4.8,2.0,0.8,0.4,0.2,0.1],
  [0,0,0,0,0,0,0.1,0.3,0.6,1.0,0.3,0,0,0,0,0,0,0.5,2.0,3.8,1.5,0.5,0.3,0.2,0.3,0.2,0.1,0,0,0,0,0,0,0,0.1,0.2,0.4,0.6,0.8,1.2,1.0,1.5,2.5,13.3,4.0,1.5,1.0,0.6,0.4,0.3,0.2,0.1,0,0,0.1,0.2,0.1,0,0.1,0.2,0.4,0.8,2.0,3.0,1.0],
  [0,0,0,0,0,0,0.1,0.3,0.7,1.2,0.4,0,0,0,0,0,0,0.4,1.5,3.0,1.2,0.8,1.5,5.0,2.0,0.6,0.2,0.1,0,0,0,0,0,0,0,0.1,0.2,0.4,0.6,0.9,1.2,2.5,6.5,3.5,1.5,0.8,0.5,0.4,0.3,0.2,0.4,0.8,1.5,2.5,4.0,6.0,3.0,1.0,0.4,0.2,0.1,0,0,0.1,0],
  [0,0,0,0,0,0,0,0.2,0.5,0.8,0.3,0,0,0,0,0,0,0.5,1.8,3.2,1.2,0.5,0.2,0.1,0.2,0.1,0,0,0,0,0,0,0,0,0,0.1,0.2,0.3,0.5,0.7,0.9,1.5,2.2,1.5,0.8,0.5,0.3,0.2,0.1,0.2,0.3,0.5,0.3,0.1,0,0,0.1,0.2,0.4,0.3,0.1,0,0,0,0],
  [0,0,0,0,0,0,0.2,0.5,0.9,1.2,0.4,0,0,0,0,0,0,0.6,2.5,5.5,2.0,0.8,0.4,0.3,0.4,0.3,0.1,0,0,0,0,0,0,0,0.1,0.2,0.4,0.6,1.0,1.5,4.0,6.5,9.0,4.0,1.5,0.8,0.5,0.3,0.2,0.1,0.2,0.3,0.2,0.1,0,0,0.1,0.2,0.1,0,0,0.1,0.2,0.1,0]
];

// --- Construction des datasets ---
const STEP_DAYS = 0.25; // une échéance toutes les 6 h
const MEAN_COLOR = '#ff1a50';
const CTRL_COLOR = '#0000ff';
const GFS_COLOR = '#000000';

function serie(values, color, width, axis) {
    return {
        data: values.map((v, i) => ({ x: i * STEP_DAYS, y: v })),
        borderColor: color,
        borderWidth: width,
        pointRadius: 0,
        fill: false,
        tension: 0,
        yAxisID: axis
    };
}

// Le premier dataset est dessiné au-dessus : moyenne, puis GFS, contrôle, perturbations.
const datasets = [
    serie(t850Mean, MEAN_COLOR, 3, 'y'),
    serie(t500Mean, MEAN_COLOR, 3, 'y'),
    serie(precipMean, MEAN_COLOR, 3, 'yR'),
    serie(t850Gfs, GFS_COLOR, 2, 'y'),
    serie(t500Gfs, GFS_COLOR, 2, 'y'),
    serie(precipGfs, GFS_COLOR, 2, 'yR'),
    serie(t850Ctrl, CTRL_COLOR, 2, 'y'),
    serie(t500Ctrl, CTRL_COLOR, 2, 'y'),
    serie(precipCtrl, CTRL_COLOR, 2, 'yR')
];
memberColors.forEach((c, m) => {
    datasets.push(serie(t850Members[m], c, 1, 'y'));
    datasets.push(serie(t500Members[m], c, 1, 'y'));
    datasets.push(serie(precipMembers[m], c, 1, 'yR'));
});

// --- Grille dessinée à la main (lignes pointillées, ligne du zéro plus épaisse) ---
const grille = {
    id: 'grille',
    beforeDatasetsDraw(chart) {
        const { ctx, chartArea: a, scales: { x, y } } = chart;
        ctx.save();
        ctx.lineWidth = 1;
        ctx.strokeStyle = '#dcdcdc';
        dayLabels.forEach((_, i) => {
            const px = Math.round(x.getPixelForValue(i)) + 0.5;
            ctx.beginPath(); ctx.moveTo(px, a.top); ctx.lineTo(px, a.bottom); ctx.stroke();
        });
        leftTicks.forEach(v => {
            const py = Math.round(y.getPixelForValue(v)) + 0.5;
            ctx.setLineDash(v === 0 || v === -20 ? [] : [2, 1]);
            ctx.strokeStyle = v === 0 ? '#aaa59c' : (v === -20 ? '#d8c6a8' : '#cdcdcd');
            ctx.lineWidth = v === 0 ? 2 : 1;
            ctx.beginPath(); ctx.moveTo(a.left, py); ctx.lineTo(a.right, py); ctx.stroke();
        });
        ctx.restore();
    }
};

// --- Textes, légende et cartouche du bas ---
const MONO = '"DejaVu Sans Mono", monospace';
function texte(ctx, s, x, y, font, maxW) {
    ctx.font = font;
    ctx.fillText(s, x, y, maxW);
}
const habillage = {
    id: 'habillage',
    afterDraw(chart) {
        const ctx = chart.ctx;
        ctx.save();
        ctx.fillStyle = '#000';
        ctx.textBaseline = 'middle';
        ctx.textAlign = 'left';

        texte(ctx, 'Temp. 850hPa', 32, 35, '7px ' + MONO, 38);
        texte(ctx, 'Temp. 500hPa', 32, 148, '7px ' + MONO, 38);
        texte(ctx, 'Précipitations', 32, 288, '7px ' + MONO, 45);
        texte(ctx, '(°C)', 10, 328, '7px ' + MONO, 13);
        texte(ctx, '(mm)', 384, 328, '7px ' + MONO, 12);

        // lignes de légende
        ctx.lineWidth = 3;
        ctx.strokeStyle = MEAN_COLOR;
        ctx.beginPath(); ctx.moveTo(19, 352); ctx.lineTo(35, 352); ctx.stroke();
        ctx.strokeStyle = CTRL_COLOR;
        ctx.beginPath(); ctx.moveTo(122, 344); ctx.lineTo(140, 344); ctx.stroke();
        ctx.strokeStyle = GFS_COLOR;
        ctx.beginPath(); ctx.moveTo(122, 349); ctx.lineTo(140, 349); ctx.stroke();
        ctx.lineWidth = 1;
        ctx.strokeStyle = '#6070c0';
        ctx.setLineDash([1, 2]);
        ctx.beginPath(); ctx.moveTo(122, 349.5); ctx.lineTo(140, 349.5); ctx.stroke();
        ctx.setLineDash([]);

        texte(ctx, 'Moyenne des scénarios', 40, 352, '7px ' + MONO, 68);
        texte(ctx, 'Run de controle', 143, 344, '7px ' + MONO, 47);
        texte(ctx, 'Run GFS', 143, 349, '7px ' + MONO, 22);
        texte(ctx, '20 Perturbations', 200, 352, '7px ' + MONO, 52);

        // pavés de couleur des perturbations
        memberColors.forEach((c, i) => {
            const bx = 253 + i * 6;
            ctx.fillStyle = c;
            ctx.fillRect(bx, 350, 6, 5);
            ctx.fillStyle = '#000';
            ctx.textAlign = 'center';
            texte(ctx, String(i + 1).padStart(2, '0'), bx + 3, 346.5, '4px ' + MONO, 5.5);
        });
        ctx.textAlign = 'left';

        // cartouche
        ctx.strokeStyle = '#000';
        ctx.lineWidth = 1;
        ctx.strokeRect(15.5, 360.5, 221, 24);
        texte(ctx, 'Diagramme des ensembles GEFS sur 384h : 42.5N 12.4E', 17, 364.5, 'bold 8px ' + MONO, 190);
        texte(ctx, 'Températures 850hPa et 500hPa (°C) , précipitations (mm)', 17, 373.5, '7px ' + MONO, 180);
        texte(ctx, 'Ensemble GEFS du 14/07/2011 - 00h', 243, 363.5, '7px ' + MONO, 117);
        texte(ctx, 'Copyright 2011 Meteociel.fr', 243, 373.5, 'bold 8px ' + MONO, 101);
        ctx.restore();
    }
};

Chart.defaults.font.family = '"Liberation Sans", Arial, sans-serif';
Chart.defaults.color = '#000';

new Chart(document.getElementById('graphe').getContext('2d'), {
    type: 'line',
    data: { datasets },
    options: {
        responsive: false,
        animation: false,
        devicePixelRatio: 1,
        layout: { padding: { left: 11, right: 0, top: 0, bottom: 0 } },
        plugins: { legend: { display: false }, tooltip: { enabled: false } },
        scales: {
            x: {
                type: 'linear', min: 0, max: 16,
                grid: { display: false, drawTicks: false },
                border: { display: false },
                afterBuildTicks: s => { s.ticks = dayLabels.map((_, i) => ({ value: i })); },
                afterFit: s => { s.height = 58; },
                ticks: {
                    autoSkip: false, minRotation: 90, maxRotation: 90, padding: 2, labelOffset: 3,
                    font: { size: 6.5 },
                    callback: v => dayLabels[v]
                }
            },
            y: {
                position: 'left', min: -51.5, max: 33.4,
                grid: { display: false, drawTicks: false },
                border: { display: false },
                afterBuildTicks: s => { s.ticks = leftTicks.map(v => ({ value: v })); },
                afterFit: s => { s.width = 16; },
                ticks: { crossAlign: 'far', padding: 0, font: { size: 6.5 }, callback: v => String(v) }
            },
            yR: {
                position: 'right', min: -6.5, max: 78.4,
                grid: { display: false, drawTicks: false },
                border: { display: false },
                afterBuildTicks: s => { s.ticks = rightTicks.map(v => ({ value: v })); },
                afterFit: s => { s.width = 27; },
                ticks: { padding: 9, font: { size: 6.5 }, callback: v => String(v) }
            }
        }
    },
    plugins: [grille, habillage]
});
</script>
</body>
</html>
